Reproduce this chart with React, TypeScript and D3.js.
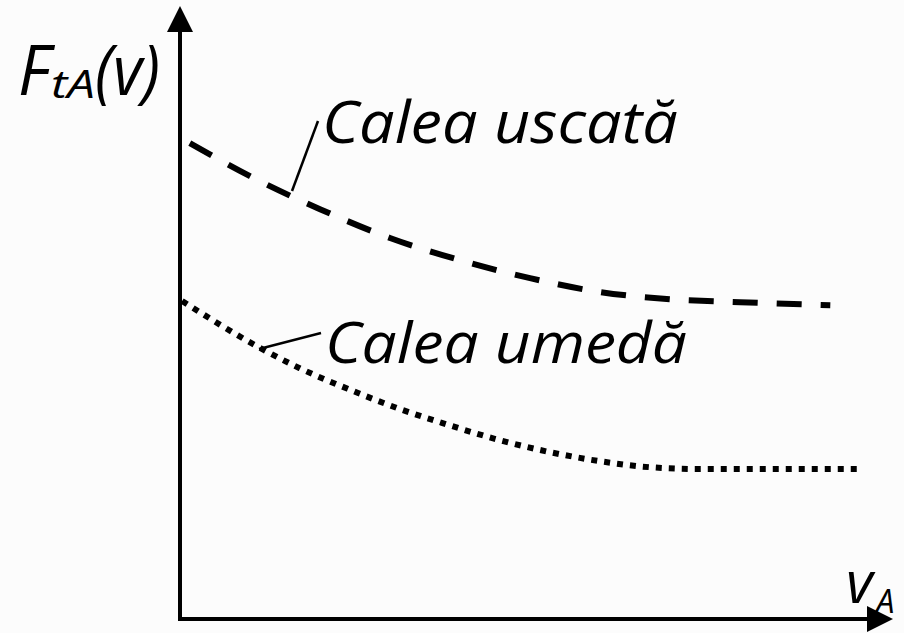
import React from "react";
import * as d3 from "d3";

const W = 904;
const H = 633;

// velocity (x) and traction force (y) samples
const dryV = [0.14, 1.0, 2.0, 3.0, 4.0, 5.0, 6.0, 7.0, 8.0, 9.29];
const dryF = [7.93, 7.38, 6.83, 6.35, 5.98, 5.68, 5.45, 5.33, 5.28, 5.23];

const wetV = [0.03, 1.14, 1.71, 2.43, 3.14, 3.74, 4.57, 5.29, 6.0, 6.71, 7.43, 8.57, 9.69];
const wetF = [5.3, 4.52, 4.18, 3.82, 3.5, 3.27, 2.98, 2.78, 2.63, 2.53, 2.5, 2.5, 2.5];

const dryLabel = "Calea uscată";
const wetLabel = "Calea umedă";

export default function App() {
  const x = d3.scaleLinear().domain([0, 10]).range([180, 880]);
  const y = d3.scaleLinear().domain([0, 10]).range([619, 19]);

  const mk = (vs: number[], fs: number[]) =>
    d3
      .line<[number, number]>()
      .x((d) => x(d[0]))
      .y((d) => y(d[1]))
      .curve(d3.curveMonotoneX)(vs.map((v, i) => [v, fs[i]]) as [number, number][]) || "";

  const font = "'Open Sans', 'Noto Sans', sans-serif";

  return (
    <svg
      width={W}
      height={H}
      style={{ position: "absolute", left: 0, top: 0, background: "#fcfcfc" }}
    >
      <rect x={0} y={0} width={W} height={H} fill="#fcfcfc" />
      {/* curves */}
      <path d={mk(dryV, dryF)} fill="none" stroke="#000" strokeWidth={6} strokeDasharray="25 19" />
      <path d={mk(wetV, wetF)} fill="none" stroke="#000" strokeWidth={6} strokeDasharray="6 7" />

      {/* axes */}
      <line x1={180} y1={621} x2={180} y2={28} stroke="#000" strokeWidth={4} />
      <polygon points="167,32 193,32 180,6" fill="#000" />
      <line x1={178} y1={619} x2={870} y2={619} stroke="#000" strokeWidth={4} />
      <polygon points="867,606 867,632 893,619" fill="#000" />

      {/* leader lines */}
      <line x1={292} y1={191} x2={318} y2={121} stroke="#000" strokeWidth={2.5} />
      <line x1={259} y1={349} x2={321} y2={333} stroke="#000" strokeWidth={2.5} />

      {/* labels */}
      <text x={322} y={143} fontFamily={font} fontStyle="italic" fontSize={58} textLength={356} lengthAdjust="spacingAndGlyphs">
        {dryLabel}
      </text>
      <text x={325} y={363} fontFamily={font} fontStyle="italic" fontSize={56} textLength={362} lengthAdjust="spacingAndGlyphs">
        {wetLabel}
      </text>

      {/* y axis title */}
      <text x={18} y={95} fontFamily={font} fontStyle="italic" fontSize={70} textLength={32} lengthAdjust="spacingAndGlyphs">F</text>
      <text x={51} y={98} fontFamily={font} fontStyle="italic" fontSize={39} textLength={44} lengthAdjust="spacingAndGlyphs">tA</text>
      <text x={95} y={95} fontFamily={font} fontStyle="italic" fontSize={70} textLength={65} lengthAdjust="spacingAndGlyphs">(v)</text>

      {/* x axis title */}
      <text x={846} y={603} fontFamily={font} fontStyle="italic" fontSize={58}>v</text>
      <text x={876} y={613} fontFamily={font} fontStyle="italic" fontSize={33}>A</text>
    </svg>
  );
}
